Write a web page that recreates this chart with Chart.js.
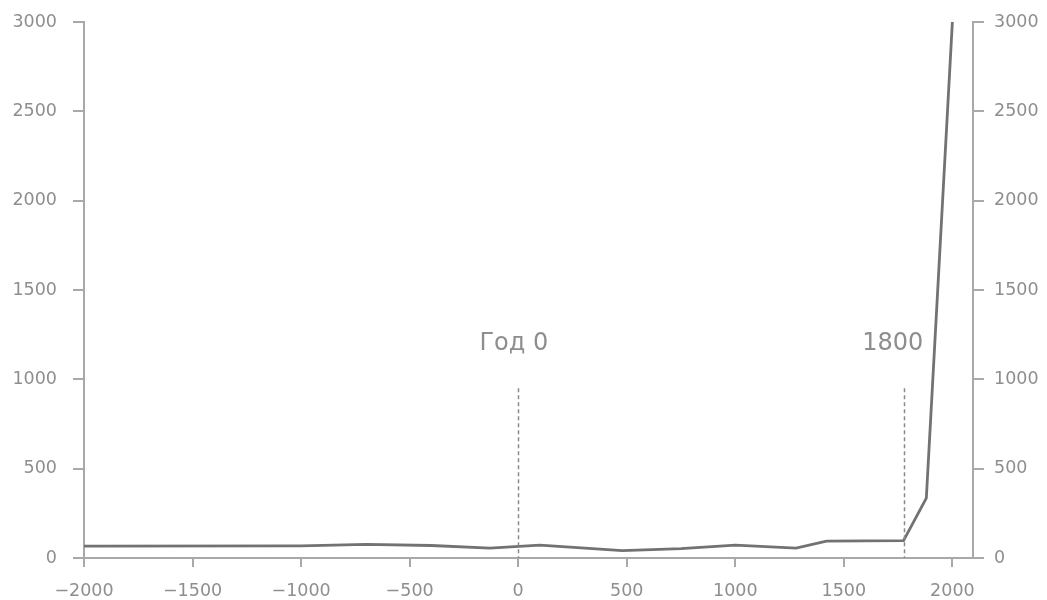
<!DOCTYPE html>
<html>
<head>
<meta charset="utf-8">
<script src="https://cdn.jsdelivr.net/npm/chart.js@4.4.1/dist/chart.umd.min.js"></script>
<style>
  html, body { margin: 0; padding: 0; background: #fff; }
  #wrap { width: 1047px; height: 600px; }
</style>
</head>
<body>
<div id="wrap"><canvas id="chart" width="1047" height="600"></canvas></div>
<script>
const years = [-2000, -1000, -700, -400, -130, 100, 480, 750, 1000, 1280, 1420, 1775, 1880, 2000];
const values = [67, 68, 76, 70, 55, 72, 41, 52, 72, 55, 95, 97, 335, 3000];

const xTickValues = [-2000, -1500, -1000, -500, 0, 500, 1000, 1500, 2000];
const yTickValues = [0, 500, 1000, 1500, 2000, 2500, 3000];

const markerYears = [0, 1775];
const markerLabels = ['Год 0', '1800'];
const markerLabelYears = [-20, 1725];
const markerTop = 950;
const markerTextLevel = 1200;

const axisColor = '#a9a9a9';
const textColor = '#8e8e8e';
const fontFamily = '"DejaVu Sans", "Noto Sans", sans-serif';

const fmt = v => (v < 0 ? '\u2212' + Math.abs(v) : String(v));

const markerPlugin = {
    id: 'markers',
    afterDatasetsDraw(chart) {
        const { ctx, scales: { x, y } } = chart;
        ctx.save();
        ctx.strokeStyle = '#8a8a8a';
        ctx.lineWidth = 1.5;
        ctx.setLineDash([4, 3]);
        markerYears.forEach(yr => {
            const px = Math.round(x.getPixelForValue(yr)) + 0.5;
            ctx.beginPath();
            ctx.moveTo(px, y.getPixelForValue(markerTop));
            ctx.lineTo(px, y.getPixelForValue(0));
            ctx.stroke();
        });
        ctx.setLineDash([]);
        ctx.fillStyle = textColor;
        ctx.font = '24px ' + fontFamily;
        ctx.textAlign = 'center';
        ctx.textBaseline = 'middle';
        markerLabels.forEach((label, i) => {
            ctx.fillText(label, x.getPixelForValue(markerLabelYears[i]), y.getPixelForValue(markerTextLevel));
        });
        ctx.restore();
    }
};

const tickFont = { size: 17.5, family: fontFamily };
const setYTicks = s => { s.ticks = yTickValues.map(v => ({ value: v })); };
const fitY = w => s => { s.width = w; s.paddingTop = 0; s.paddingBottom = 0; };

new Chart(document.getElementById('chart').getContext('2d'), {
    type: 'line',
    data: {
        datasets: [{
            data: years.map((yr, i) => ({ x: yr, y: values[i] })),
            borderColor: '#727272',
            borderWidth: 2.8,
            pointRadius: 0,
            fill: false,
            tension: 0
        }]
    },
    options: {
        responsive: false,
        animation: false,
        layout: { padding: { top: 22, right: 0, left: 0, bottom: 0 } },
        plugins: { legend: { display: false }, tooltip: { enabled: false } },
        scales: {
            x: {
                type: 'linear',
                min: -2000,
                max: 2095,
                afterBuildTicks: s => { s.ticks = xTickValues.map(v => ({ value: v })); },
                ticks: {
                    color: textColor,
                    font: tickFont,
                    padding: 14,
                    maxRotation: 0,
                    autoSkip: false,
                    callback: v => fmt(v)
                },
                grid: { drawOnChartArea: false, drawTicks: true, tickLength: 9, color: axisColor, lineWidth: 2 },
                border: { color: axisColor, width: 2 },
                afterFit: s => { s.height = 42; s.paddingLeft = 0; s.paddingRight = 0; }
            },
            y: {
                position: 'left',
                min: 0,
                max: 3000,
                afterBuildTicks: setYTicks,
                ticks: { color: textColor, font: tickFont, padding: 16, callback: v => fmt(v) },
                grid: { drawOnChartArea: false, drawTicks: true, tickLength: 11, color: axisColor, lineWidth: 2 },
                border: { color: axisColor, width: 2 },
                afterFit: fitY(84)
            },
            y2: {
                position: 'right',
                min: 0,
                max: 3000,
                afterBuildTicks: setYTicks,
                ticks: { color: textColor, font: tickFont, padding: 10, callback: v => fmt(v) },
                grid: { drawOnChartArea: false, drawTicks: true, tickLength: 11, color: axisColor, lineWidth: 2 },
                border: { color: axisColor, width: 2 },
                afterFit: fitY(74)
            }
        }
    },
    plugins: [markerPlugin]
});
</script>
</body>
</html>
